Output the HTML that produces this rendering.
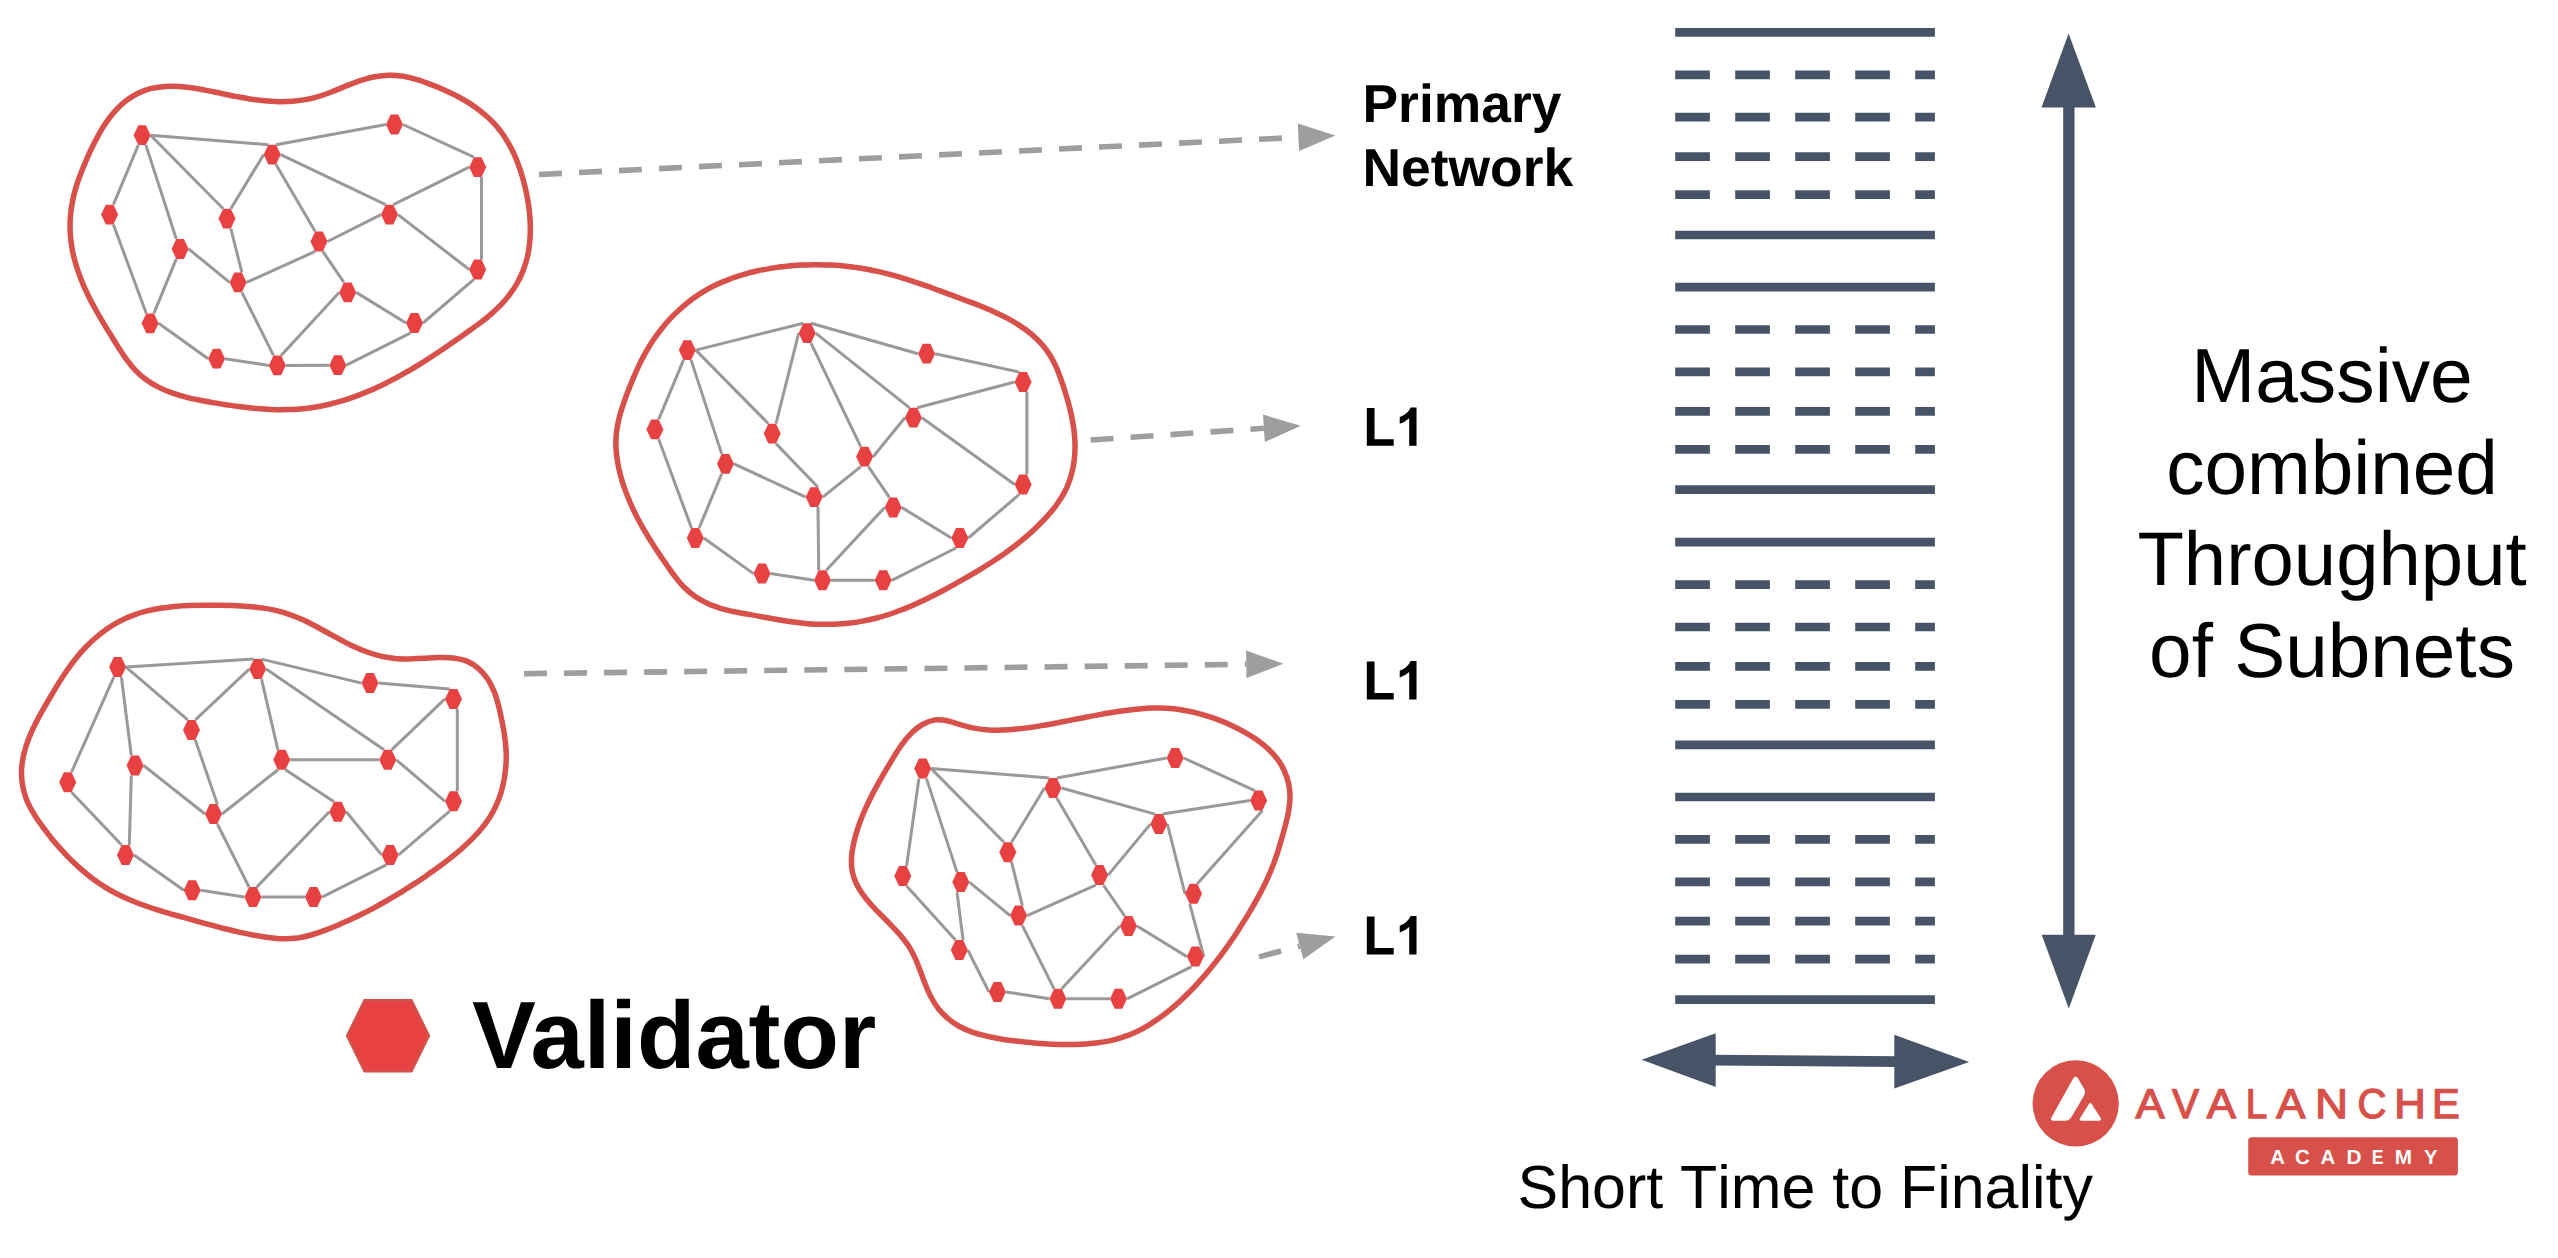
<!DOCTYPE html>
<html lang="en">
<head>
<meta charset="utf-8">
<title>Avalanche L1 validators diagram</title>
<style>
html,body{margin:0;padding:0;background:#ffffff;}
body{width:2558px;height:1258px;overflow:hidden;font-family:"Liberation Sans",sans-serif;}
svg{display:block;}
</style>
</head>
<body>
<svg width="2558" height="1258" viewBox="0 0 2558 1258">
<rect width="2558" height="1258" fill="#ffffff"/>
<g id="blob1">
<path d="M70.1 230.0C69.9 225.3 70.1 220.4 70.5 215.6C70.9 210.8 71.6 206.0 72.5 201.4C73.4 196.7 74.6 192.1 75.9 187.6C77.2 183.0 78.8 178.7 80.5 174.2C82.1 169.8 84.0 165.5 85.9 161.1C87.8 156.7 89.7 152.2 91.9 147.8C94.0 143.4 96.2 139.0 98.6 134.8C100.9 130.5 103.5 126.3 106.2 122.4C108.9 118.4 111.8 114.6 115.0 111.1C118.2 107.6 121.5 104.3 125.2 101.4C128.9 98.5 132.9 95.8 137.1 93.7C141.3 91.6 145.8 89.9 150.4 88.7C155.0 87.5 159.9 86.9 164.7 86.5C169.5 86.2 174.3 86.3 179.1 86.6C183.8 86.9 188.6 87.5 193.3 88.1C198.1 88.8 202.8 89.7 207.5 90.6C212.2 91.5 216.9 92.6 221.6 93.5C226.3 94.5 231.0 95.5 235.7 96.4C240.5 97.3 245.2 98.2 249.9 99.0C254.6 99.7 259.3 100.4 264.1 100.8C268.8 101.3 273.5 101.6 278.3 101.7C283.1 101.8 287.8 101.7 292.6 101.3C297.3 100.9 302.1 100.3 306.8 99.4C311.5 98.5 316.2 97.3 320.7 95.9C325.3 94.5 329.7 92.7 334.2 90.9C338.6 89.2 343.0 87.2 347.5 85.4C351.9 83.7 356.4 81.9 361.0 80.4C365.6 79.0 370.3 77.6 375.0 76.8C379.7 75.9 384.5 75.3 389.2 75.2C393.9 75.1 398.5 75.6 403.2 76.3C407.8 77.1 412.4 78.3 417.0 79.7C421.5 81.0 426.1 82.7 430.6 84.4C435.1 86.1 439.7 87.9 444.1 89.9C448.5 91.8 453.0 93.9 457.2 96.2C461.5 98.4 465.7 100.8 469.7 103.4C473.7 106.0 477.7 108.8 481.4 111.8C485.1 114.7 488.6 117.8 491.9 121.2C495.2 124.6 498.3 128.1 501.1 131.9C503.9 135.7 506.5 139.7 508.8 143.9C511.2 148.0 513.3 152.3 515.2 156.7C517.1 161.2 518.8 165.7 520.4 170.3C521.9 174.9 523.2 179.6 524.4 184.3C525.6 189.0 526.6 193.7 527.5 198.4C528.3 203.1 529.0 207.8 529.5 212.5C530.0 217.2 530.3 221.9 530.3 226.7C530.4 231.4 530.3 236.2 529.8 241.0C529.4 245.7 528.8 250.5 527.8 255.2C526.7 259.9 525.4 264.6 523.7 269.0C522.1 273.5 520.0 278.0 517.7 282.2C515.3 286.4 512.7 290.5 509.8 294.3C507.0 298.1 503.9 301.8 500.6 305.2C497.3 308.6 493.8 311.7 490.2 314.8C486.7 317.9 482.9 320.8 479.1 323.6C475.3 326.5 471.4 329.2 467.5 332.0C463.6 334.8 459.7 337.6 455.8 340.3C451.8 343.1 447.9 345.8 443.9 348.5C439.9 351.2 435.9 353.9 431.8 356.5C427.8 359.2 423.7 361.8 419.6 364.3C415.5 366.8 411.4 369.3 407.2 371.7C403.1 374.1 398.9 376.5 394.6 378.7C390.4 381.0 386.1 383.2 381.8 385.2C377.5 387.3 373.2 389.3 368.8 391.1C364.5 393.0 360.1 394.8 355.6 396.4C351.2 398.0 346.7 399.5 342.1 400.9C337.6 402.2 333.0 403.4 328.4 404.5C323.8 405.6 319.1 406.5 314.4 407.2C309.7 408.0 304.9 408.5 300.1 408.9C295.3 409.3 290.4 409.5 285.5 409.6C280.7 409.7 275.8 409.6 271.0 409.4C266.2 409.2 261.4 408.9 256.7 408.5C252.0 408.1 247.3 407.6 242.6 407.0C238.0 406.4 233.3 405.8 228.6 405.1C224.0 404.4 219.2 403.7 214.5 402.9C209.8 402.1 204.9 401.3 200.2 400.3C195.4 399.3 190.6 398.3 185.9 397.1C181.2 395.9 176.5 394.5 172.0 392.9C167.5 391.3 163.1 389.5 158.9 387.4C154.7 385.3 150.6 383.0 146.9 380.3C143.1 377.6 139.5 374.5 136.2 371.1C132.9 367.8 129.9 364.0 127.0 360.1C124.1 356.3 121.5 352.1 118.8 348.0C116.2 343.9 113.6 339.7 111.1 335.5C108.5 331.4 106.0 327.3 103.6 323.3C101.1 319.2 98.7 315.1 96.4 311.0C94.1 306.8 91.8 302.7 89.7 298.5C87.6 294.2 85.5 289.9 83.6 285.6C81.7 281.2 79.9 276.7 78.4 272.2C76.8 267.7 75.4 263.1 74.2 258.4C73.0 253.8 72.0 249.1 71.4 244.4C70.7 239.6 70.2 234.8 70.1 230.0Z" fill="none" stroke="#D7504A" stroke-width="5.5" stroke-linejoin="round"/>
<path d="M150.6 135.2 L268.4 144.7M276.0 144.7 L386.0 124.5M403.0 124.5 L473.9 157.2M138.3 145.1 L113.4 204.7M145.9 145.1 L176.3 239.0M150.6 135.2 L223.2 208.7M263.7 154.6 L230.8 208.7M276.0 164.5 L315.2 231.6M280.7 154.6 L385.7 204.7M469.2 167.2 L393.3 204.7M481.5 177.1 L481.5 259.6M381.0 214.6 L327.5 241.5M398.0 214.6 L469.2 269.5M230.8 228.5 L241.9 272.4M188.6 248.9 L229.6 282.4M176.3 258.9 L153.9 313.4M113.4 224.5 L146.3 313.4M315.2 251.4 L246.6 282.4M322.8 251.4 L343.9 282.4M241.9 292.3 L273.5 355.4M339.2 292.4 L281.1 355.4M356.2 292.4 L406.0 323.0M423.0 323.0 L473.9 279.4M158.6 323.3 L208.1 358.7M225.1 358.7 L268.8 365.4M285.8 365.4 L329.3 365.2M346.3 365.2 L410.7 332.9" fill="none" stroke="#999999" stroke-width="3" stroke-linecap="butt"/>
<polygon points="133.6,135.2 138.3,125.2 145.9,125.2 150.6,135.2 145.9,145.1 138.3,145.1" fill="#E74142"/>
<polygon points="263.7,154.6 268.4,144.7 276.0,144.7 280.7,154.6 276.0,164.5 268.4,164.5" fill="#E74142"/>
<polygon points="386.0,124.5 390.7,114.5 398.3,114.5 403.0,124.5 398.3,134.4 390.7,134.4" fill="#E74142"/>
<polygon points="469.2,167.2 473.9,157.2 481.5,157.2 486.2,167.2 481.5,177.1 473.9,177.1" fill="#E74142"/>
<polygon points="101.1,214.6 105.8,204.7 113.4,204.7 118.1,214.6 113.4,224.5 105.8,224.5" fill="#E74142"/>
<polygon points="218.5,218.6 223.2,208.7 230.8,208.7 235.5,218.6 230.8,228.5 223.2,228.5" fill="#E74142"/>
<polygon points="381.0,214.6 385.7,204.7 393.3,204.7 398.0,214.6 393.3,224.5 385.7,224.5" fill="#E74142"/>
<polygon points="171.6,248.9 176.3,239.0 183.9,239.0 188.6,248.9 183.9,258.9 176.3,258.9" fill="#E74142"/>
<polygon points="310.5,241.5 315.2,231.6 322.8,231.6 327.5,241.5 322.8,251.4 315.2,251.4" fill="#E74142"/>
<polygon points="229.6,282.4 234.3,272.4 241.9,272.4 246.6,282.4 241.9,292.3 234.3,292.3" fill="#E74142"/>
<polygon points="469.2,269.5 473.9,259.6 481.5,259.6 486.2,269.5 481.5,279.4 473.9,279.4" fill="#E74142"/>
<polygon points="339.2,292.4 343.9,282.4 351.5,282.4 356.2,292.4 351.5,302.3 343.9,302.3" fill="#E74142"/>
<polygon points="141.6,323.3 146.3,313.4 153.9,313.4 158.6,323.3 153.9,333.2 146.3,333.2" fill="#E74142"/>
<polygon points="406.0,323.0 410.7,313.1 418.3,313.1 423.0,323.0 418.3,332.9 410.7,332.9" fill="#E74142"/>
<polygon points="208.1,358.7 212.8,348.8 220.4,348.8 225.1,358.7 220.4,368.6 212.8,368.6" fill="#E74142"/>
<polygon points="268.8,365.4 273.5,355.4 281.1,355.4 285.8,365.4 281.1,375.3 273.5,375.3" fill="#E74142"/>
<polygon points="329.3,365.2 334.0,355.2 341.6,355.2 346.3,365.2 341.6,375.1 334.0,375.1" fill="#E74142"/>
</g>
<g id="blob2">
<path d="M616.4 433.0C616.9 428.3 617.8 423.6 618.9 418.9C620.0 414.3 621.5 409.7 623.0 405.1C624.5 400.5 626.2 396.0 627.9 391.5C629.7 387.0 631.4 382.5 633.3 378.1C635.2 373.6 637.1 369.2 639.2 364.9C641.2 360.6 643.4 356.4 645.8 352.2C648.1 348.1 650.6 344.0 653.3 340.0C656.0 336.1 658.8 332.2 661.8 328.5C664.8 324.7 667.9 321.1 671.2 317.7C674.5 314.2 678.0 310.9 681.6 307.7C685.1 304.6 688.9 301.6 692.7 298.8C696.5 296.0 700.5 293.4 704.6 290.9C708.7 288.5 712.9 286.3 717.2 284.3C721.5 282.3 725.9 280.4 730.4 278.8C734.8 277.1 739.4 275.6 744.0 274.3C748.6 272.9 753.3 271.8 758.0 270.8C762.7 269.7 767.5 268.9 772.3 268.1C777.0 267.4 781.8 266.8 786.6 266.3C791.4 265.8 796.3 265.4 801.1 265.1C805.9 264.9 810.7 264.7 815.4 264.7C820.2 264.7 825.0 264.7 829.7 265.0C834.5 265.2 839.2 265.5 843.9 265.9C848.6 266.4 853.3 266.9 858.0 267.7C862.7 268.4 867.4 269.2 872.0 270.2C876.7 271.1 881.3 272.2 885.9 273.4C890.6 274.6 895.2 275.9 899.8 277.2C904.4 278.6 908.9 280.1 913.5 281.6C918.1 283.1 922.6 284.6 927.2 286.2C931.7 287.8 936.2 289.5 940.8 291.1C945.3 292.8 949.8 294.5 954.3 296.1C958.8 297.8 963.3 299.5 967.8 301.2C972.3 302.9 976.8 304.5 981.2 306.3C985.6 308.1 990.0 309.9 994.3 311.9C998.7 313.8 1002.9 315.9 1007.1 318.1C1011.3 320.4 1015.4 322.7 1019.4 325.4C1023.4 328.0 1027.4 330.8 1031.1 333.9C1034.7 337.0 1038.3 340.3 1041.5 343.8C1044.6 347.3 1047.5 351.2 1050.0 355.2C1052.5 359.2 1054.6 363.5 1056.6 367.8C1058.5 372.2 1060.1 376.8 1061.7 381.3C1063.3 385.9 1064.8 390.5 1066.1 395.1C1067.5 399.7 1068.8 404.4 1070.0 409.0C1071.1 413.7 1072.1 418.3 1072.9 423.0C1073.7 427.7 1074.3 432.4 1074.7 437.2C1075.0 441.9 1075.1 446.7 1074.9 451.5C1074.7 456.2 1074.2 461.1 1073.4 465.8C1072.5 470.5 1071.4 475.3 1069.8 479.8C1068.3 484.3 1066.4 488.7 1064.1 492.9C1061.9 497.1 1059.2 501.1 1056.4 505.0C1053.6 508.8 1050.5 512.6 1047.3 516.2C1044.1 519.7 1040.7 523.2 1037.3 526.5C1033.9 529.9 1030.4 533.1 1026.8 536.2C1023.2 539.3 1019.5 542.3 1015.7 545.2C1012.0 548.1 1008.1 550.9 1004.3 553.7C1000.4 556.4 996.4 559.1 992.4 561.7C988.4 564.3 984.3 566.8 980.3 569.3C976.2 571.8 972.0 574.3 967.9 576.7C963.7 579.1 959.5 581.5 955.3 583.8C951.1 586.1 946.9 588.5 942.7 590.7C938.4 593.0 934.2 595.2 929.9 597.3C925.5 599.5 921.2 601.5 916.9 603.5C912.5 605.5 908.1 607.4 903.7 609.1C899.2 610.8 894.8 612.5 890.3 614.0C885.7 615.5 881.2 616.8 876.6 618.0C872.0 619.2 867.4 620.3 862.7 621.1C858.0 622.0 853.2 622.7 848.5 623.2C843.7 623.7 838.9 624.0 834.1 624.2C829.3 624.4 824.5 624.4 819.7 624.3C814.9 624.1 810.1 623.9 805.3 623.4C800.6 623.0 795.8 622.5 791.1 621.8C786.4 621.2 781.7 620.4 777.0 619.5C772.4 618.7 767.7 617.8 763.0 617.0C758.3 616.1 753.5 615.2 748.8 614.4C744.1 613.5 739.3 612.7 734.5 611.7C729.8 610.7 725.1 609.7 720.5 608.3C716.0 606.8 711.4 605.2 707.1 603.2C702.9 601.2 698.7 598.9 694.8 596.2C690.9 593.5 687.2 590.4 683.9 587.0C680.5 583.7 677.6 579.9 674.7 576.1C671.7 572.3 669.1 568.3 666.3 564.4C663.5 560.4 660.8 556.5 658.2 552.5C655.5 548.5 652.9 544.5 650.4 540.4C647.8 536.3 645.4 532.2 643.0 528.1C640.6 523.9 638.4 519.7 636.2 515.5C634.1 511.2 632.0 506.9 630.1 502.5C628.2 498.1 626.4 493.7 624.8 489.2C623.2 484.7 621.8 480.1 620.5 475.4C619.3 470.8 618.2 466.1 617.5 461.3C616.7 456.6 616.1 451.9 616.0 447.1C615.8 442.4 615.9 437.7 616.4 433.0Z" fill="none" stroke="#D7504A" stroke-width="5.5" stroke-linejoin="round"/>
<path d="M695.8 350.1 L803.4 323.2M811.0 323.2 L918.1 353.7M935.1 353.7 L1019.3 372.1M683.5 360.1 L658.7 419.4M691.1 360.1 L721.7 453.9M695.8 350.1 L768.4 423.7M798.7 333.1 L776.0 423.7M811.0 343.1 L860.8 446.8M815.7 333.1 L909.6 407.8M1014.6 382.0 L917.2 407.8M1026.9 391.9 L1026.9 474.6M904.9 417.7 L873.1 456.7M921.9 417.7 L1014.6 484.5M776.0 443.6 L818.0 487.2M734.0 463.8 L805.7 497.1M721.7 473.8 L699.1 528.0M658.7 439.3 L691.5 528.0M860.8 466.6 L822.7 497.1M868.4 466.6 L889.4 497.4M818.0 507.1 L818.7 570.3M884.7 507.4 L826.3 570.3M901.7 507.4 L951.3 538.0M968.3 538.0 L1019.3 494.4M703.8 538.0 L753.5 573.6M770.5 573.6 L814.0 580.3M831.0 580.3 L874.7 580.3M891.7 580.3 L956.0 548.0" fill="none" stroke="#999999" stroke-width="3" stroke-linecap="butt"/>
<polygon points="678.8,350.1 683.5,340.2 691.1,340.2 695.8,350.1 691.1,360.1 683.5,360.1" fill="#E74142"/>
<polygon points="798.7,333.1 803.4,323.2 811.0,323.2 815.7,333.1 811.0,343.1 803.4,343.1" fill="#E74142"/>
<polygon points="918.1,353.7 922.8,343.8 930.4,343.8 935.1,353.7 930.4,363.6 922.8,363.6" fill="#E74142"/>
<polygon points="1014.6,382.0 1019.3,372.1 1026.9,372.1 1031.6,382.0 1026.9,391.9 1019.3,391.9" fill="#E74142"/>
<polygon points="646.4,429.4 651.1,419.4 658.7,419.4 663.4,429.4 658.7,439.3 651.1,439.3" fill="#E74142"/>
<polygon points="763.7,433.6 768.4,423.7 776.0,423.7 780.7,433.6 776.0,443.6 768.4,443.6" fill="#E74142"/>
<polygon points="904.9,417.7 909.6,407.8 917.2,407.8 921.9,417.7 917.2,427.6 909.6,427.6" fill="#E74142"/>
<polygon points="717.0,463.8 721.7,453.9 729.3,453.9 734.0,463.8 729.3,473.8 721.7,473.8" fill="#E74142"/>
<polygon points="856.1,456.7 860.8,446.8 868.4,446.8 873.1,456.7 868.4,466.6 860.8,466.6" fill="#E74142"/>
<polygon points="805.7,497.1 810.4,487.2 818.0,487.2 822.7,497.1 818.0,507.1 810.4,507.1" fill="#E74142"/>
<polygon points="1014.6,484.5 1019.3,474.6 1026.9,474.6 1031.6,484.5 1026.9,494.4 1019.3,494.4" fill="#E74142"/>
<polygon points="884.7,507.4 889.4,497.4 897.0,497.4 901.7,507.4 897.0,517.4 889.4,517.4" fill="#E74142"/>
<polygon points="686.8,538.0 691.5,528.0 699.1,528.0 703.8,538.0 699.1,548.0 691.5,548.0" fill="#E74142"/>
<polygon points="951.3,538.0 956.0,528.0 963.6,528.0 968.3,538.0 963.6,548.0 956.0,548.0" fill="#E74142"/>
<polygon points="753.5,573.6 758.2,563.6 765.8,563.6 770.5,573.6 765.8,583.6 758.2,583.6" fill="#E74142"/>
<polygon points="814.0,580.3 818.7,570.3 826.3,570.3 831.0,580.3 826.3,590.2 818.7,590.2" fill="#E74142"/>
<polygon points="874.7,580.3 879.4,570.3 887.0,570.3 891.7,580.3 887.0,590.2 879.4,590.2" fill="#E74142"/>
</g>
<g id="blob3">
<path d="M21.5 774.0C21.4 769.1 21.9 764.3 22.7 759.6C23.5 754.9 24.8 750.2 26.2 745.7C27.7 741.1 29.5 736.6 31.4 732.2C33.3 727.8 35.5 723.5 37.7 719.2C39.9 715.0 42.3 710.8 44.7 706.6C47.0 702.4 49.5 698.3 52.0 694.2C54.4 690.0 56.9 685.9 59.4 681.9C62.0 677.9 64.6 673.9 67.3 670.0C70.0 666.1 72.8 662.2 75.8 658.5C78.8 654.7 82.0 651.0 85.4 647.5C88.7 644.0 92.3 640.6 96.0 637.5C99.7 634.3 103.6 631.3 107.6 628.5C111.6 625.8 115.7 623.3 119.9 621.1C124.2 618.9 128.5 617.0 132.9 615.4C137.3 613.7 141.8 612.3 146.4 611.2C151.0 610.0 155.6 609.0 160.3 608.3C165.0 607.5 169.7 606.9 174.5 606.4C179.3 606.0 184.1 605.7 189.0 605.5C193.8 605.3 198.7 605.2 203.6 605.2C208.5 605.1 213.4 605.2 218.2 605.3C223.1 605.3 228.0 605.4 232.8 605.6C237.7 605.8 242.5 606.0 247.3 606.4C252.1 606.7 256.9 607.2 261.6 607.9C266.3 608.5 271.0 609.3 275.6 610.4C280.2 611.5 284.8 612.7 289.2 614.3C293.7 615.8 298.1 617.7 302.4 619.6C306.8 621.6 311.0 623.8 315.3 626.0C319.6 628.3 323.8 630.7 328.1 633.0C332.3 635.3 336.6 637.7 340.9 640.0C345.2 642.2 349.4 644.5 353.8 646.5C358.2 648.5 362.6 650.4 367.1 652.0C371.6 653.6 376.2 655.0 380.8 656.1C385.5 657.1 390.1 657.9 394.8 658.4C399.5 658.9 404.3 658.9 409.1 658.9C413.8 658.8 418.6 658.4 423.5 658.2C428.3 658.0 433.3 657.5 438.2 657.5C443.1 657.4 448.2 657.3 453.0 657.9C457.7 658.5 462.5 659.3 466.8 661.1C471.0 662.9 475.1 665.5 478.6 668.6C482.2 671.6 485.3 675.5 488.0 679.4C490.6 683.4 492.6 687.8 494.4 692.3C496.2 696.8 497.5 701.6 498.7 706.3C499.9 711.0 500.8 715.8 501.8 720.5C502.7 725.3 503.7 729.9 504.4 734.6C505.1 739.3 505.7 744.0 506.0 748.7C506.3 753.5 506.3 758.4 506.1 763.2C505.8 768.0 505.3 772.8 504.5 777.6C503.7 782.4 502.6 787.1 501.3 791.7C499.9 796.3 498.2 800.9 496.3 805.2C494.3 809.6 492.0 813.8 489.5 817.8C486.9 821.8 484.0 825.6 480.9 829.3C477.9 833.0 474.5 836.5 471.1 839.9C467.7 843.3 464.1 846.5 460.5 849.7C456.8 852.9 453.1 855.9 449.3 858.9C445.5 861.9 441.7 864.8 437.8 867.6C433.9 870.4 430.0 873.2 426.1 875.9C422.1 878.6 418.1 881.3 414.1 883.9C410.1 886.5 406.0 889.1 402.0 891.6C397.9 894.1 393.8 896.6 389.6 899.0C385.5 901.4 381.4 903.8 377.2 906.1C372.9 908.4 368.7 910.7 364.4 912.8C360.2 915.0 355.9 917.1 351.5 919.1C347.1 921.2 342.7 923.1 338.3 925.0C333.9 926.9 329.4 928.7 324.8 930.4C320.3 932.1 315.7 933.7 311.1 935.0C306.5 936.3 301.8 937.4 297.1 938.1C292.3 938.7 287.6 938.9 282.8 938.8C278.0 938.7 273.2 938.1 268.4 937.5C263.6 936.9 258.9 936.1 254.2 935.2C249.4 934.4 244.8 933.4 240.1 932.4C235.4 931.3 230.8 930.2 226.1 929.0C221.5 927.9 216.9 926.6 212.3 925.4C207.6 924.2 203.0 922.9 198.4 921.6C193.7 920.3 189.1 919.0 184.4 917.7C179.8 916.4 175.1 915.1 170.5 913.8C165.8 912.4 161.2 911.1 156.6 909.6C152.0 908.1 147.5 906.6 143.0 905.0C138.5 903.3 134.0 901.6 129.6 899.7C125.2 897.8 120.9 895.8 116.7 893.7C112.4 891.5 108.3 889.2 104.3 886.6C100.2 884.1 96.3 881.4 92.4 878.5C88.6 875.6 84.9 872.6 81.2 869.4C77.6 866.3 74.1 862.9 70.6 859.5C67.2 856.1 63.9 852.5 60.6 848.9C57.4 845.3 54.2 841.6 51.2 837.9C48.2 834.1 45.2 830.3 42.4 826.4C39.5 822.6 36.7 818.7 34.3 814.7C31.8 810.6 29.5 806.5 27.6 802.2C25.8 797.8 24.2 793.2 23.2 788.5C22.1 783.8 21.6 778.8 21.5 774.0Z" fill="none" stroke="#D7504A" stroke-width="5.5" stroke-linejoin="round"/>
<path d="M126.1 667.1 L253.9 659.1M261.5 659.1 L361.5 683.1M378.5 683.1 L449.7 688.9M113.8 677.1 L71.5 772.2M121.4 677.1 L131.3 755.5M126.1 667.1 L187.7 719.9M249.2 669.1 L195.3 719.9M261.5 679.1 L277.9 749.8M266.2 669.1 L384.0 749.8M445.0 698.9 L391.6 749.8M457.3 708.9 L457.3 791.3M379.3 759.8 L290.2 759.8M396.3 759.8 L445.0 801.3M195.3 739.9 L217.3 804.0M143.6 765.5 L205.0 814.0M131.3 775.5 L129.3 845.0M71.5 792.2 L121.7 845.0M277.9 769.8 L222.0 814.0M285.5 769.8 L334.0 801.8M217.3 824.0 L249.1 887.1M329.3 811.7 L256.7 887.1M346.3 811.7 L381.6 854.9M398.6 854.9 L449.7 811.2M134.0 855.0 L183.7 890.3M200.7 890.3 L244.4 897.1M261.4 897.1 L305.0 897.1M322.0 897.1 L386.3 864.9" fill="none" stroke="#999999" stroke-width="3" stroke-linecap="butt"/>
<polygon points="109.1,667.1 113.8,657.1 121.4,657.1 126.1,667.1 121.4,677.1 113.8,677.1" fill="#E74142"/>
<polygon points="249.2,669.1 253.9,659.1 261.5,659.1 266.2,669.1 261.5,679.1 253.9,679.1" fill="#E74142"/>
<polygon points="361.5,683.1 366.2,673.1 373.8,673.1 378.5,683.1 373.8,693.1 366.2,693.1" fill="#E74142"/>
<polygon points="445.0,698.9 449.7,688.9 457.3,688.9 462.0,698.9 457.3,708.9 449.7,708.9" fill="#E74142"/>
<polygon points="59.2,782.2 63.9,772.2 71.5,772.2 76.2,782.2 71.5,792.2 63.9,792.2" fill="#E74142"/>
<polygon points="183.0,729.9 187.7,719.9 195.3,719.9 200.0,729.9 195.3,739.9 187.7,739.9" fill="#E74142"/>
<polygon points="379.3,759.8 384.0,749.8 391.6,749.8 396.3,759.8 391.6,769.8 384.0,769.8" fill="#E74142"/>
<polygon points="126.6,765.5 131.3,755.5 138.9,755.5 143.6,765.5 138.9,775.5 131.3,775.5" fill="#E74142"/>
<polygon points="273.2,759.8 277.9,749.8 285.5,749.8 290.2,759.8 285.5,769.8 277.9,769.8" fill="#E74142"/>
<polygon points="205.0,814.0 209.7,804.0 217.3,804.0 222.0,814.0 217.3,824.0 209.7,824.0" fill="#E74142"/>
<polygon points="445.0,801.3 449.7,791.3 457.3,791.3 462.0,801.3 457.3,811.2 449.7,811.2" fill="#E74142"/>
<polygon points="329.3,811.7 334.0,801.8 341.6,801.8 346.3,811.7 341.6,821.7 334.0,821.7" fill="#E74142"/>
<polygon points="117.0,855.0 121.7,845.0 129.3,845.0 134.0,855.0 129.3,865.0 121.7,865.0" fill="#E74142"/>
<polygon points="381.6,854.9 386.3,844.9 393.9,844.9 398.6,854.9 393.9,864.9 386.3,864.9" fill="#E74142"/>
<polygon points="183.7,890.3 188.4,880.3 196.0,880.3 200.7,890.3 196.0,900.2 188.4,900.2" fill="#E74142"/>
<polygon points="244.4,897.1 249.1,887.1 256.7,887.1 261.4,897.1 256.7,907.1 249.1,907.1" fill="#E74142"/>
<polygon points="305.0,897.1 309.7,887.1 317.3,887.1 322.0,897.1 317.3,907.1 309.7,907.1" fill="#E74142"/>
</g>
<g id="blob4">
<path d="M852.1 870.5C851.3 866.1 851.3 861.5 851.6 856.8C851.8 852.2 852.8 847.3 853.8 842.7C854.8 838.1 856.1 833.4 857.6 829.0C859.0 824.5 860.6 820.2 862.3 816.0C864.0 811.8 865.9 807.7 867.8 803.6C869.8 799.5 871.8 795.4 873.9 791.4C876.1 787.4 878.3 783.4 880.5 779.4C882.8 775.4 885.1 771.4 887.5 767.4C889.9 763.4 892.3 759.4 894.7 755.4C897.2 751.5 899.7 747.4 902.5 743.7C905.2 740.0 908.1 736.3 911.4 733.1C914.7 729.9 918.4 726.7 922.4 724.5C926.3 722.3 930.6 720.5 935.0 719.9C939.3 719.3 943.8 720.1 948.2 721.0C952.7 721.9 957.3 723.9 961.8 725.1C966.3 726.4 970.9 727.6 975.5 728.4C980.0 729.2 984.6 729.7 989.1 730.0C993.7 730.2 998.3 730.2 1002.8 730.1C1007.4 730.0 1012.0 729.6 1016.5 729.1C1021.1 728.7 1025.7 728.1 1030.2 727.4C1034.8 726.8 1039.3 726.0 1043.9 725.2C1048.4 724.5 1052.9 723.6 1057.5 722.8C1062.0 721.9 1066.5 721.0 1071.0 720.1C1075.6 719.2 1080.1 718.3 1084.6 717.5C1089.2 716.6 1093.7 715.7 1098.2 714.9C1102.8 714.0 1107.3 713.2 1111.9 712.5C1116.4 711.8 1121.0 711.1 1125.6 710.5C1130.1 709.9 1134.7 709.3 1139.3 708.9C1143.9 708.5 1148.5 708.2 1153.1 708.1C1157.7 708.0 1162.3 708.0 1166.9 708.2C1171.5 708.5 1176.0 709.0 1180.6 709.7C1185.1 710.4 1189.7 711.3 1194.2 712.4C1198.6 713.5 1203.1 714.8 1207.5 716.2C1211.9 717.5 1216.2 719.1 1220.5 720.7C1224.8 722.4 1229.1 724.2 1233.2 726.2C1237.4 728.2 1241.4 730.3 1245.4 732.6C1249.4 734.9 1253.4 737.3 1257.2 740.0C1260.9 742.7 1264.6 745.6 1268.0 748.7C1271.3 751.9 1274.5 755.2 1277.2 758.9C1280.0 762.6 1282.4 766.6 1284.3 770.8C1286.2 775.0 1287.8 779.5 1288.7 784.0C1289.7 788.5 1290.1 793.1 1290.0 797.6C1290.0 802.2 1289.3 806.8 1288.6 811.3C1287.8 815.8 1286.6 820.3 1285.5 824.8C1284.3 829.3 1283.1 833.8 1281.8 838.3C1280.5 842.7 1279.2 847.2 1277.8 851.6C1276.4 855.9 1274.9 860.3 1273.3 864.6C1271.6 868.9 1269.9 873.1 1268.0 877.3C1266.1 881.5 1264.1 885.6 1262.0 889.7C1259.9 893.8 1257.7 897.8 1255.4 901.9C1253.2 905.9 1250.8 909.9 1248.5 913.8C1246.1 917.8 1243.7 921.7 1241.2 925.6C1238.7 929.5 1236.2 933.3 1233.7 937.2C1231.1 941.0 1228.5 944.8 1225.8 948.5C1223.1 952.2 1220.4 955.9 1217.5 959.6C1214.7 963.2 1211.9 966.8 1208.9 970.4C1206.0 973.9 1203.0 977.4 1199.9 980.8C1196.8 984.3 1193.7 987.7 1190.4 991.0C1187.2 994.3 1183.9 997.5 1180.5 1000.7C1177.1 1003.8 1173.6 1006.9 1170.0 1009.8C1166.4 1012.8 1162.8 1015.6 1159.0 1018.3C1155.3 1020.9 1151.4 1023.5 1147.5 1025.8C1143.6 1028.1 1139.6 1030.3 1135.4 1032.2C1131.3 1034.1 1127.1 1035.8 1122.8 1037.2C1118.5 1038.7 1114.0 1039.9 1109.6 1040.9C1105.1 1041.8 1100.5 1042.6 1095.9 1043.1C1091.3 1043.7 1086.6 1044.0 1081.9 1044.3C1077.2 1044.5 1072.5 1044.6 1067.8 1044.6C1063.1 1044.6 1058.5 1044.4 1053.8 1044.2C1049.2 1044.0 1044.6 1043.7 1040.0 1043.4C1035.5 1043.1 1031.0 1042.7 1026.5 1042.3C1022.0 1041.8 1017.5 1041.3 1013.0 1040.7C1008.5 1040.1 1004.0 1039.5 999.4 1038.7C994.9 1037.9 990.2 1037.0 985.7 1035.9C981.1 1034.8 976.6 1033.6 972.2 1032.1C967.8 1030.5 963.5 1028.7 959.5 1026.5C955.5 1024.2 951.6 1021.7 948.2 1018.7C944.7 1015.8 941.5 1012.5 938.6 1009.0C935.8 1005.5 933.5 1001.5 931.3 997.5C929.1 993.5 927.3 989.1 925.5 984.8C923.7 980.5 922.2 976.0 920.5 971.6C918.8 967.2 917.3 962.8 915.4 958.6C913.4 954.4 911.4 950.4 909.0 946.6C906.6 942.8 903.8 939.3 901.0 935.9C898.1 932.4 894.9 929.1 891.7 925.8C888.5 922.4 885.1 919.1 881.8 915.7C878.4 912.4 875.0 909.0 871.9 905.5C868.7 902.0 865.6 898.4 863.0 894.7C860.4 890.9 857.9 887.1 856.1 883.1C854.3 879.1 852.9 874.9 852.1 870.5Z" fill="none" stroke="#D7504A" stroke-width="5.5" stroke-linejoin="round"/>
<path d="M931.2 768.6 L1049.2 778.0M1056.8 778.0 L1166.7 758.0M1183.7 758.0 L1254.8 790.6M918.9 778.6 L906.6 866.0M926.5 778.6 L957.0 872.1M931.2 768.6 L1004.0 842.2M1044.5 788.0 L1011.6 842.2M1056.8 798.0 L1095.8 865.1M1061.5 788.0 L1155.1 814.1M1250.1 800.6 L1162.7 814.1M1262.4 810.6 L1197.3 883.8M1150.4 824.1 L1108.1 875.1M1167.4 824.1 L1185.0 893.8M1011.6 862.2 L1022.4 905.6M969.3 882.1 L1010.1 915.6M957.0 892.1 L963.1 940.0M906.6 886.0 L955.5 940.0M1095.8 885.1 L1027.1 915.6M1103.4 885.1 L1124.7 916.0M1022.4 925.6 L1054.1 988.8M1120.0 926.0 L1061.7 988.8M1137.0 926.0 L1186.9 956.6M1203.9 956.6 L1189.7 903.8M967.8 950.0 L988.9 991.9M1005.9 991.9 L1049.4 998.8M1066.4 998.8 L1110.0 998.8M1127.0 998.8 L1191.6 966.6" fill="none" stroke="#999999" stroke-width="3" stroke-linecap="butt"/>
<polygon points="914.2,768.6 918.9,758.6 926.5,758.6 931.2,768.6 926.5,778.6 918.9,778.6" fill="#E74142"/>
<polygon points="1044.5,788.0 1049.2,778.0 1056.8,778.0 1061.5,788.0 1056.8,798.0 1049.2,798.0" fill="#E74142"/>
<polygon points="1166.7,758.0 1171.4,748.0 1179.0,748.0 1183.7,758.0 1179.0,768.0 1171.4,768.0" fill="#E74142"/>
<polygon points="1250.1,800.6 1254.8,790.6 1262.4,790.6 1267.1,800.6 1262.4,810.6 1254.8,810.6" fill="#E74142"/>
<polygon points="894.3,876.0 899.0,866.0 906.6,866.0 911.3,876.0 906.6,886.0 899.0,886.0" fill="#E74142"/>
<polygon points="999.3,852.2 1004.0,842.2 1011.6,842.2 1016.3,852.2 1011.6,862.2 1004.0,862.2" fill="#E74142"/>
<polygon points="1150.4,824.1 1155.1,814.1 1162.7,814.1 1167.4,824.1 1162.7,834.1 1155.1,834.1" fill="#E74142"/>
<polygon points="952.3,882.1 957.0,872.1 964.6,872.1 969.3,882.1 964.6,892.1 957.0,892.1" fill="#E74142"/>
<polygon points="1091.1,875.1 1095.8,865.1 1103.4,865.1 1108.1,875.1 1103.4,885.1 1095.8,885.1" fill="#E74142"/>
<polygon points="1010.1,915.6 1014.8,905.6 1022.4,905.6 1027.1,915.6 1022.4,925.6 1014.8,925.6" fill="#E74142"/>
<polygon points="1185.0,893.8 1189.7,883.8 1197.3,883.8 1202.0,893.8 1197.3,903.8 1189.7,903.8" fill="#E74142"/>
<polygon points="1120.0,926.0 1124.7,916.0 1132.3,916.0 1137.0,926.0 1132.3,936.0 1124.7,936.0" fill="#E74142"/>
<polygon points="950.8,950.0 955.5,940.0 963.1,940.0 967.8,950.0 963.1,960.0 955.5,960.0" fill="#E74142"/>
<polygon points="1186.9,956.6 1191.6,946.6 1199.2,946.6 1203.9,956.6 1199.2,966.6 1191.6,966.6" fill="#E74142"/>
<polygon points="988.9,991.9 993.6,981.9 1001.2,981.9 1005.9,991.9 1001.2,1001.9 993.6,1001.9" fill="#E74142"/>
<polygon points="1049.4,998.8 1054.1,988.8 1061.7,988.8 1066.4,998.8 1061.7,1008.8 1054.1,1008.8" fill="#E74142"/>
<polygon points="1110.0,998.8 1114.7,988.8 1122.3,988.8 1127.0,998.8 1122.3,1008.8 1114.7,1008.8" fill="#E74142"/>
</g>
<g id="arrows">
<line x1="539.0" y1="174.5" x2="1298.4" y2="137.3" stroke="#9E9E9E" stroke-width="5.6" stroke-dasharray="22.9 17.15"/><polygon points="1335.4,135.5 1299.1,151.0 1297.8,123.6" fill="#9E9E9E"/>
<line x1="1090.6" y1="440.0" x2="1263.9" y2="428.3" stroke="#9E9E9E" stroke-width="5.6" stroke-dasharray="22.9 17.15"/><polygon points="1300.8,425.8 1264.8,442.0 1263.0,414.6" fill="#9E9E9E"/>
<line x1="524.0" y1="673.7" x2="1246.3" y2="664.3" stroke="#9E9E9E" stroke-width="5.6" stroke-dasharray="22.9 17.15"/><polygon points="1283.3,663.8 1246.5,678.0 1246.1,650.6" fill="#9E9E9E"/>
<line x1="1259.0" y1="956.9" x2="1299.7" y2="946.1" stroke="#9E9E9E" stroke-width="5.6" stroke-dasharray="22.9 17.15"/><polygon points="1335.5,936.6 1303.3,959.3 1296.2,932.8" fill="#9E9E9E"/>
</g>
<g id="chains" stroke="#475467" stroke-width="8.7" fill="none">
<line x1="1675.2" y1="32.4" x2="1934.9" y2="32.4"/>
<line x1="1675.2" y1="235.0" x2="1934.9" y2="235.0"/>
<line x1="1675.2" y1="74.8" x2="1934.9" y2="74.8" stroke-dasharray="34.7 25.3"/>
<line x1="1675.2" y1="117.2" x2="1934.9" y2="117.2" stroke-dasharray="34.7 25.3"/>
<line x1="1675.2" y1="156.6" x2="1934.9" y2="156.6" stroke-dasharray="34.7 25.3"/>
<line x1="1675.2" y1="194.6" x2="1934.9" y2="194.6" stroke-dasharray="34.7 25.3"/>
<line x1="1675.2" y1="287.1" x2="1934.9" y2="287.1"/>
<line x1="1675.2" y1="489.7" x2="1934.9" y2="489.7"/>
<line x1="1675.2" y1="329.5" x2="1934.9" y2="329.5" stroke-dasharray="34.7 25.3"/>
<line x1="1675.2" y1="371.9" x2="1934.9" y2="371.9" stroke-dasharray="34.7 25.3"/>
<line x1="1675.2" y1="411.3" x2="1934.9" y2="411.3" stroke-dasharray="34.7 25.3"/>
<line x1="1675.2" y1="449.3" x2="1934.9" y2="449.3" stroke-dasharray="34.7 25.3"/>
<line x1="1675.2" y1="542.2" x2="1934.9" y2="542.2"/>
<line x1="1675.2" y1="744.8" x2="1934.9" y2="744.8"/>
<line x1="1675.2" y1="584.6" x2="1934.9" y2="584.6" stroke-dasharray="34.7 25.3"/>
<line x1="1675.2" y1="627.0" x2="1934.9" y2="627.0" stroke-dasharray="34.7 25.3"/>
<line x1="1675.2" y1="666.4" x2="1934.9" y2="666.4" stroke-dasharray="34.7 25.3"/>
<line x1="1675.2" y1="704.4" x2="1934.9" y2="704.4" stroke-dasharray="34.7 25.3"/>
<line x1="1675.2" y1="797.0" x2="1934.9" y2="797.0"/>
<line x1="1675.2" y1="999.6" x2="1934.9" y2="999.6"/>
<line x1="1675.2" y1="839.4" x2="1934.9" y2="839.4" stroke-dasharray="34.7 25.3"/>
<line x1="1675.2" y1="881.8" x2="1934.9" y2="881.8" stroke-dasharray="34.7 25.3"/>
<line x1="1675.2" y1="921.2" x2="1934.9" y2="921.2" stroke-dasharray="34.7 25.3"/>
<line x1="1675.2" y1="959.2" x2="1934.9" y2="959.2" stroke-dasharray="34.7 25.3"/>
</g>
<g id="bigarrows" fill="#475467" stroke="none">
<rect x="2063.2" y="100" width="11.3" height="840"/>
<polygon points="2068.6,33.4 2041.5,107.5 2095.9,107.5"/>
<polygon points="2068.8,1008.6 2041.7,934.7 2095.8,934.7"/>
<polygon points="1641.7,1059.7 1715.7,1033.2 1715.7,1087.0"/>
<polygon points="1969.1,1062.1 1894.3,1034.8 1894.3,1088.6"/>
<line x1="1710" y1="1060.1" x2="1900" y2="1061.7" stroke="#475467" stroke-width="10.8"/>
</g>
<g id="legend">
<polygon points="347.2,1035.8 364.6,1000.4 411.4,1000.4 428.8,1035.8 411.4,1071.2 364.6,1071.2" fill="#E74142" stroke="#D4504B" stroke-width="2.6" stroke-linejoin="miter"/>
</g>
<g id="logo">
<circle cx="2075.7" cy="1103.4" r="43.1" fill="#D7504A"/>
<path d="M2073.3 1078.2 Q2075.6 1074.6 2077.9 1078.2 L2084.0 1088.6 Q2086.0 1092.2 2084.0 1095.8 L2071.6 1116.8 Q2069.4 1120.7 2065.0 1120.7 L2053.6 1120.7 Q2049.6 1120.7 2051.6 1117.2 Z" fill="#fff"/>
<path d="M2088.6 1104.4 Q2090.3 1101.6 2092.0 1104.4 L2100.6 1118.0 Q2102.2 1120.7 2099.0 1120.7 L2081.8 1120.7 Q2078.6 1120.7 2080.2 1118.0 Z" fill="#fff"/>
<rect x="2248.2" y="1137.2" width="209.7" height="38.2" rx="3.5" fill="#D7504A"/>
</g>
<g id="text" font-family="Liberation Sans, sans-serif" fill="#000" style="font-variant-ligatures:none;text-rendering:geometricPrecision">
<text x="1362.5" y="122.0" font-size="53.4" font-weight="700" style="font-kerning:none">Primary</text>
<text x="1362.5" y="185.8" font-size="53.4" font-weight="700" style="font-kerning:none">Network</text>
<path d="M1366.81 445.80 L1366.81 407.89 L1374.53 407.89 L1374.53 439.36 L1393.72 439.36 L1393.72 445.80ZM1416.53 445.80 L1409.21 445.80 L1409.21 418.19 Q1405.19 421.94 1399.74 423.74 L1399.74 417.09 Q1402.61 416.15 1405.97 413.53 Q1409.34 410.91 1410.59 407.42 L1416.53 407.42Z" fill="#000"/>
<path d="M1366.81 699.50 L1366.81 661.59 L1374.53 661.59 L1374.53 693.06 L1393.72 693.06 L1393.72 699.50ZM1416.53 699.50 L1409.21 699.50 L1409.21 671.89 Q1405.19 675.64 1399.74 677.44 L1399.74 670.79 Q1402.61 669.85 1405.97 667.23 Q1409.34 664.61 1410.59 661.12 L1416.53 661.12Z" fill="#000"/>
<path d="M1366.81 954.50 L1366.81 916.59 L1374.53 916.59 L1374.53 948.06 L1393.72 948.06 L1393.72 954.50ZM1416.53 954.50 L1409.21 954.50 L1409.21 926.89 Q1405.19 930.64 1399.74 932.44 L1399.74 925.79 Q1402.61 924.85 1405.97 922.23 Q1409.34 919.61 1410.59 916.12 L1416.53 916.12Z" fill="#000"/>
<text x="472.0" y="1068.4" font-size="95.7" font-weight="700" style="font-kerning:normal">Validator</text>
<text x="1517.6" y="1207.9" font-size="60.9" style="font-kerning:none">Short Time to Finality</text>
<text x="2332" y="402.2" font-size="76.8" text-anchor="middle" style="font-kerning:none">Massive</text>
<text x="2332" y="493.7" font-size="76.5" text-anchor="middle" style="font-kerning:none">combined</text>
<text x="2332" y="585.2" font-size="76.1" text-anchor="middle" style="font-kerning:none">Throughput</text>
<text x="2332" y="676.7" font-size="76.5" text-anchor="middle" style="font-kerning:none">of Subnets</text>
<text transform="translate(2150.1 1118.3) scale(1.050 1)" text-anchor="middle" font-size="41.6" fill="#D7504A" stroke="#D7504A" stroke-width="1.3">A</text>
<text transform="translate(2185.6 1118.3) scale(0.975 1)" text-anchor="middle" font-size="41.6" fill="#D7504A" stroke="#D7504A" stroke-width="1.3">V</text>
<text transform="translate(2221.2 1118.3) scale(1.050 1)" text-anchor="middle" font-size="41.6" fill="#D7504A" stroke="#D7504A" stroke-width="1.3">A</text>
<text transform="translate(2256.4 1118.3) scale(0.930 1)" text-anchor="middle" font-size="41.6" fill="#D7504A" stroke="#D7504A" stroke-width="1.3">L</text>
<text transform="translate(2290.8 1118.3) scale(1.050 1)" text-anchor="middle" font-size="41.6" fill="#D7504A" stroke="#D7504A" stroke-width="1.3">A</text>
<text transform="translate(2331.6 1118.3) scale(1.100 1)" text-anchor="middle" font-size="41.6" fill="#D7504A" stroke="#D7504A" stroke-width="1.3">N</text>
<text transform="translate(2371.9 1118.3) scale(0.960 1)" text-anchor="middle" font-size="41.6" fill="#D7504A" stroke="#D7504A" stroke-width="1.3">C</text>
<text transform="translate(2410.1 1118.3) scale(1.050 1)" text-anchor="middle" font-size="41.6" fill="#D7504A" stroke="#D7504A" stroke-width="1.3">H</text>
<text transform="translate(2445.9 1118.3) scale(1.000 1)" text-anchor="middle" font-size="41.6" fill="#D7504A" stroke="#D7504A" stroke-width="1.3">E</text>
<text transform="translate(2277.6 1163.5) scale(1.000 1)" text-anchor="middle" font-size="20.4" font-weight="700" fill="#fff">A</text>
<text transform="translate(2302.4 1163.5) scale(1.000 1)" text-anchor="middle" font-size="20.4" font-weight="700" fill="#fff">C</text>
<text transform="translate(2327.8 1163.5) scale(1.000 1)" text-anchor="middle" font-size="20.4" font-weight="700" fill="#fff">A</text>
<text transform="translate(2353.9 1163.5) scale(1.020 1)" text-anchor="middle" font-size="20.4" font-weight="700" fill="#fff">D</text>
<text transform="translate(2377.6 1163.5) scale(0.870 1)" text-anchor="middle" font-size="20.4" font-weight="700" fill="#fff">E</text>
<text transform="translate(2403.4 1163.5) scale(1.020 1)" text-anchor="middle" font-size="20.4" font-weight="700" fill="#fff">M</text>
<text transform="translate(2430.8 1163.5) scale(1.000 1)" text-anchor="middle" font-size="20.4" font-weight="700" fill="#fff">Y</text>
</g>
</svg>
</body>
</html>
